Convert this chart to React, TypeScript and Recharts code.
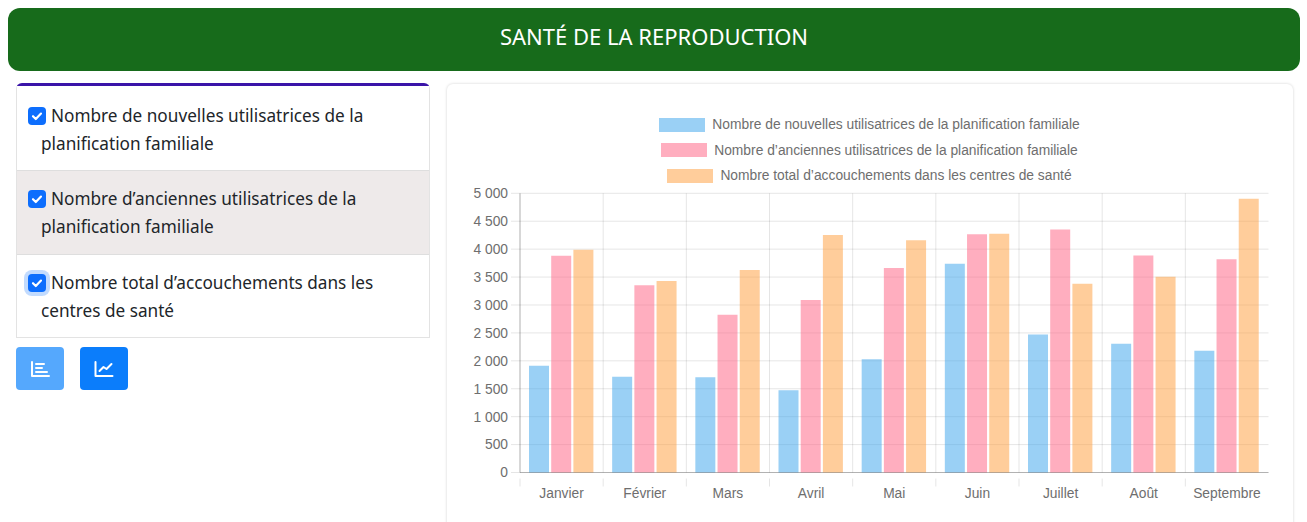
import { BarChart, Bar, XAxis, YAxis, CartesianGrid, Legend } from "recharts";

const months = ["Janvier", "Février", "Mars", "Avril", "Mai", "Juin", "Juillet", "Août", "Septembre"];
const nouvelles = [1913, 1716, 1704, 1472, 2027, 3737, 2471, 2304, 2179];
const anciennes = [3883, 3352, 2826, 3089, 3660, 4268, 4352, 3886, 3820];
const accouchements = [3990, 3429, 3626, 4253, 4161, 4274, 3379, 3504, 4901];
const yTicks = [0, 500, 1000, 1500, 2000, 2500, 3000, 3500, 4000, 4500, 5000];

const seriesNames = [
  "Nombre de nouvelles utilisatrices de la planification familiale",
  "Nombre d’anciennes utilisatrices de la planification familiale",
  "Nombre total d’accouchements dans les centres de santé",
];
const seriesColors = ["rgba(54,162,235,0.5)", "rgba(255,99,132,0.52)", "rgba(255,159,64,0.52)"];

const optionLines = [
  ["Nombre de nouvelles utilisatrices de la", "planification familiale"],
  ["Nombre d’anciennes utilisatrices de la", "planification familiale"],
  ["Nombre total d’accouchements dans les", "centres de santé"],
];

const data = months.map((month, i) => ({
  month,
  nouvelles: nouvelles[i],
  anciennes: anciennes[i],
  accouchements: accouchements[i],
}));

const uiFont = "'Noto Sans', sans-serif";
const chartFont = "'Liberation Sans', Arial, sans-serif";
const chartFontSize = 13.8;
const tickColor = "#6e6e6e";
const gridColor = "rgba(0,0,0,0.1)";
const axisColor = "rgba(0,0,0,0.22)";

const fmt = (v: number) => v.toLocaleString("fr-FR").replace(/[\u202f\u00a0]/g, " ");

function LegendRows({ payload }: any) {
  return (
    <div style={{ display: "flex", flexDirection: "column", alignItems: "center", fontFamily: chartFont, marginLeft: -1 }}>
      {(payload || []).map((p: any) => (
        <div key={p.value} style={{ display: "flex", alignItems: "center", height: 25.5 }}>
          <span style={{ width: 46, height: 14, background: p.color, marginRight: 7 }} />
          <span style={{ fontSize: chartFontSize, color: tickColor }}>{p.value}</span>
        </div>
      ))}
    </div>
  );
}

// tick line sits on the category boundary, label in the middle
function MonthTick({ x, y, payload, width }: any) {
  const step = width / months.length;
  const left = x - step / 2;
  return (
    <g>
      <line x1={left} x2={left} y1={y - 8} y2={y} stroke={gridColor} />
      <text x={x} y={y + 11} textAnchor="middle" fontSize={chartFontSize} fontFamily={chartFont} fill={tickColor}>
        {payload.value}
      </text>
    </g>
  );
}

function CheckBox({ focus, top }: { focus?: boolean; top: number }) {
  return (
    <svg
      width="18"
      height="18"
      viewBox="0 0 18 18"
      style={{
        position: "absolute",
        left: 11,
        top,
        borderRadius: 4,
        background: "#0d6efd",
        boxShadow: focus ? "0 0 0 4px rgba(13,110,253,0.25)" : undefined,
      }}
    >
      <path d="M5 9.2l2.8 2.8L13 6.6" fill="none" stroke="#fff" strokeWidth="2.2" strokeLinecap="round" strokeLinejoin="round" />
    </svg>
  );
}

function IconButton({ left, bg, children }: any) {
  return (
    <div style={{ position: "absolute", left, top: 347, width: 48, height: 43, borderRadius: 4, background: bg }}>
      <svg width="48" height="43" viewBox="0 0 48 43" fill="none" stroke="#fff" strokeWidth="2" strokeLinecap="round" strokeLinejoin="round">
        {children}
      </svg>
    </div>
  );
}

export default function App() {
  return (
    <div style={{ position: "fixed", left: 0, top: 0, width: 1307, height: 522, overflow: "hidden", background: "#fff", fontFamily: uiFont }}>
      <div
        style={{
          position: "absolute",
          left: 8,
          top: 8,
          width: 1292,
          height: 63,
          borderRadius: 12,
          background: "#176b1b",
          color: "#fff",
          fontSize: 22,
          lineHeight: "56px",
          textAlign: "center",
        }}
      >
        SANTÉ DE LA REPRODUCTION
      </div>

      <div
        style={{
          position: "absolute",
          left: 16,
          top: 83,
          width: 414,
          height: 255,
          boxSizing: "border-box",
          border: "1px solid #e3e3e3",
          borderTop: "3px solid #3a14a8",
          borderRadius: "6px 6px 0 0",
          color: "#212529",
          fontSize: 17.2,
          lineHeight: "28px",
        }}
      >
        {optionLines.map((lines, i) => (
          <div
            key={i}
            style={{
              position: "relative",
              height: i === 2 ? 83 : 84,
              boxSizing: "border-box",
              paddingLeft: 24,
              paddingTop: i === 0 ? 16 : 14,
              background: i === 1 ? "#eeeaea" : "#fff",
              borderTop: i === 0 ? undefined : "1px solid #dedede",
            }}
          >
            <CheckBox focus={i === 2} top={i === 0 ? 21 : 19} />
            <div style={{ textIndent: 10, whiteSpace: "nowrap" }}>{lines[0]}</div>
            <div style={{ whiteSpace: "nowrap" }}>{lines[1]}</div>
          </div>
        ))}
      </div>

      <IconButton left={16} bg="#55a8fd">
        <path d="M16 15v14h17M20 25h11M20 21h6M20 17h8" />
      </IconButton>
      <IconButton left={80} bg="#0b7dfb">
        <path d="M15.5 15v14h17M19.5 24l4-4 3 2 5-5" />
      </IconButton>

      <div
        style={{
          position: "absolute",
          left: 447,
          top: 84,
          width: 846,
          height: 460,
          borderRadius: 6,
          boxShadow: "0 0 3px rgba(0,0,0,0.18)",
        }}
      >
        <BarChart
          width={846}
          height={438}
          data={data}
          barSize={20}
          barGap={2.2}
          margin={{ top: 27, right: 24.5, bottom: 0, left: 0 }}
        >
          <Legend
            verticalAlign="top"
            width={846}
            height={82.3}
            wrapperStyle={{ left: 0, top: 28 }}
            content={<LegendRows />}
          />
          <CartesianGrid
            stroke={gridColor}
            verticalCoordinatesGenerator={({ offset }: any) => months.map((_, i) => offset.left + (i * offset.width) / months.length)}
          />
          <XAxis
            dataKey="month"
            interval={0}
            height={49.5}
            axisLine={{ stroke: axisColor }}
            tickLine={false}
            tick={<MonthTick />}
            tickMargin={8}
          />
          <YAxis
            width={73}
            domain={[0, 5000]}
            ticks={yTicks}
            interval={0}
            tickFormatter={fmt}
            tickSize={9}
            tickMargin={3}
            axisLine={{ stroke: axisColor }}
            tickLine={{ stroke: gridColor }}
            tick={{ fontSize: chartFontSize, fontFamily: chartFont, fill: tickColor }}
          />
          <Bar dataKey="nouvelles" name={seriesNames[0]} fill={seriesColors[0]} isAnimationActive={false} />
          <Bar dataKey="anciennes" name={seriesNames[1]} fill={seriesColors[1]} isAnimationActive={false} />
          <Bar dataKey="accouchements" name={seriesNames[2]} fill={seriesColors[2]} isAnimationActive={false} />
        </BarChart>
      </div>
    </div>
  );
}
